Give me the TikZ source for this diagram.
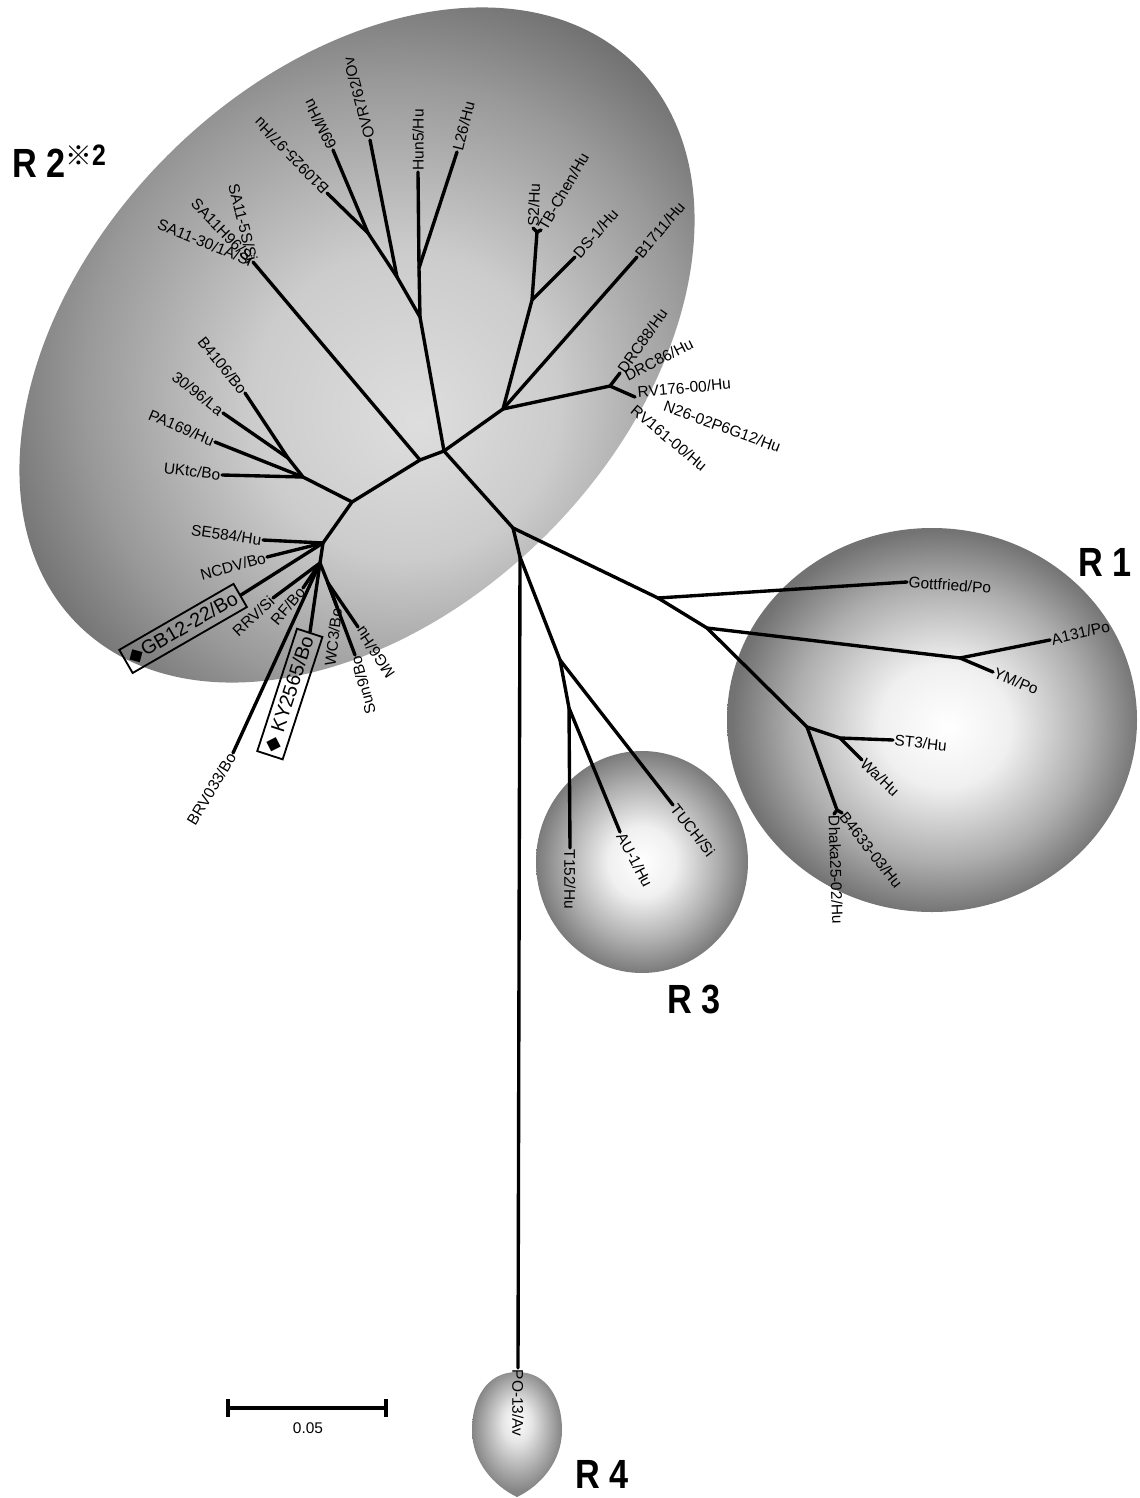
\documentclass[tikz,border=0pt]{standalone}
\usepackage{fontspec}
\setmainfont{Liberation Sans}
\newfontfamily\symfont{DejaVu Sans}
\newfontfamily\cjkfont{Noto Sans CJK JP}
\pgfdeclareradialshading{rtwo}{\pgfpoint{4bp}{-5bp}}{color(0bp)=(black!13); color(10bp)=(black!20); color(20bp)=(black!40); color(28bp)=(black!60); color(45bp)=(black!65)}
\pgfdeclareradialshading{rone}{\pgfpoint{2bp}{-1bp}}{color(0bp)=(white); color(8bp)=(black!6); color(18bp)=(black!32); color(25bp)=(black!55); color(35bp)=(black!58)}
\pgfdeclareradialshading{rthree}{\pgfpoint{0bp}{0bp}}{color(0bp)=(white); color(8bp)=(black!6); color(18bp)=(black!32); color(25bp)=(black!52); color(35bp)=(black!55)}
\pgfdeclareradialshading{rfour}{\pgfpoint{0bp}{6bp}}{color(0bp)=(white); color(8bp)=(black!10); color(25bp)=(black!48); color(40bp)=(black!60)}
\begin{document}
\begin{tikzpicture}[x=0.025cm,y=-0.025cm,
  br/.style={line width=2.4pt, line cap=round, line join=round},
  lab/.style={font=\fontsize{11}{13}\selectfont, inner sep=1pt},
  boxlab/.style={draw, line width=1.3pt, font=\fontsize{14}{16}\selectfont, inner sep=3pt, minimum height=19pt},
  big/.style={font=\fontsize{29}{29}\selectfont\bfseries, inner sep=0pt, anchor=base west}]
\useasboundingbox (0,0) rectangle (1139,1498);
\fill[white] (0,0) rectangle (1139,1498);
% groups
\shade[shading=rtwo, rotate around={45:(357,345)}] (357,345) ellipse [x radius=395, y radius=268];
\shade[shading=rone] (932,720) ellipse [x radius=205, y radius=192];
\shade[shading=rthree] (642,862) ellipse [x radius=106, y radius=111];
\shade[shading=rfour] (517,1372) .. controls (548,1372) and (562,1400) .. (562,1430) .. controls (562,1462) and (540,1486) .. (517,1497) .. controls (494,1486) and (472,1462) .. (472,1430) .. controls (472,1400) and (486,1372) .. (517,1372) -- cycle;
% internal nodes
\coordinate (E) at (444,451);
\coordinate (D) at (420,460);
\coordinate (B) at (352,502);
\coordinate (A) at (323,543);
\coordinate (A2) at (320,563);
\coordinate (A3) at (328,583);
\coordinate (C) at (303,477);
\coordinate (C1) at (288,458);
\coordinate (U) at (420,317);
\coordinate (U1) at (397,277);
\coordinate (U2) at (368,233);
\coordinate (U3) at (419,268);
\coordinate (P) at (503,409);
\coordinate (Q) at (532,300);
\coordinate (Q1) at (537,232);
\coordinate (R) at (610,386);
\coordinate (Rd) at (620,373);
\coordinate (Rv) at (635,397);
\coordinate (F) at (513,528);
\coordinate (H) at (520,557);
\coordinate (I) at (560,660);
\coordinate (J3) at (569,708);
\coordinate (G) at (658,598);
\coordinate (J) at (707,628);
\coordinate (Y) at (960,658);
\coordinate (K) at (807,727);
\coordinate (S) at (840,738);
\coordinate (BD) at (837,810);
% leaves
\coordinate (lB10925) at (327,193);
\coordinate (l69M) at (333,150);
\coordinate (lOVR) at (370,140);
\coordinate (lHun5) at (418,172);
\coordinate (lL26) at (457,152);
\coordinate (lSA11) at (253,262);
\coordinate (lB4106) at (245,393);
\coordinate (l3096) at (223,413);
\coordinate (lPA169) at (215,442);
\coordinate (lUKtc) at (222,475);
\coordinate (lSE584) at (263,540);
\coordinate (lNCDV) at (267,557);
\coordinate (lGB12) at (241,595);
\coordinate (lRRV) at (273,598);
\coordinate (lRF) at (303,588);
\coordinate (lBRV) at (233,753);
\coordinate (lKY) at (310,632);
\coordinate (lWC3) at (337,607);
\coordinate (lSun9) at (355,655);
\coordinate (lMG6) at (358,627);
\coordinate (lS2) at (533,228);
\coordinate (lTB) at (541,230);
\coordinate (lDS) at (575,257);
\coordinate (lB1711) at (637,257);
\coordinate (lGott) at (907,582);
\coordinate (lA131) at (1050,640);
\coordinate (lYM) at (993,672);
\coordinate (lST3) at (893,740);
\coordinate (lWa) at (862,760);
\coordinate (lB4633) at (842,813);
\coordinate (lDhaka) at (834,814);
\coordinate (lT152) at (570,848);
\coordinate (lAU1) at (620,832);
\coordinate (lTUCH) at (673,805);
\coordinate (lPO) at (518,1368);
% branches
\draw[br] (E) -- (D) -- (B) -- (A) -- (A2) -- (A3);
\draw[br] (B) -- (C) -- (C1) -- (lB4106);
\draw[br] (C1) -- (l3096);
\draw[br] (C) -- (lPA169);
\draw[br] (C) -- (lUKtc);
\draw[br] (D) -- (lSA11);
\draw[br] (A) -- (lSE584);
\draw[br] (A) -- (lNCDV);
\draw[br] (A) -- (lGB12);
\draw[br] (A2) -- (lRRV);
\draw[br] (A2) -- (lRF);
\draw[br] (A2) -- (lBRV);
\draw[br] (A2) -- (lKY);
\draw[br] (A3) -- (lWC3);
\draw[br] (A3) -- (lSun9);
\draw[br] (A3) -- (lMG6);
\draw[br] (E) -- (U) -- (U1) -- (U2) -- (lB10925);
\draw[br] (U2) -- (l69M);
\draw[br] (U1) -- (lOVR);
\draw[br] (U) -- (U3) -- (lHun5);
\draw[br] (U3) -- (lL26);
\draw[br] (E) -- (P) -- (Q) -- (Q1) -- (lS2);
\draw[br] (Q1) -- (lTB);
\draw[br] (Q) -- (lDS);
\draw[br] (P) -- (lB1711);
\draw[br] (P) -- (R) -- (Rd);
\draw[br] (R) -- (Rv);
\draw[br] (E) -- (F) -- (G) -- (lGott);
\draw[br] (G) -- (J) -- (Y) -- (lA131);
\draw[br] (Y) -- (lYM);
\draw[br] (J) -- (K) -- (S) -- (lST3);
\draw[br] (S) -- (lWa);
\draw[br] (K) -- (BD) -- (lB4633);
\draw[br] (BD) -- (lDhaka);
\draw[br] (F) -- (H) -- (lPO);
\draw[br] (H) -- (I) -- (J3) -- (lT152);
\draw[br] (J3) -- (lAU1);
\draw[br] (I) -- (lTUCH);
% labels upper cluster
\node[lab, anchor=west, rotate=134] (tB10925) at (lB10925) {B10925-97/Hu};
\node[lab, anchor=west, rotate=117] (t69M) at (l69M) {69M/Hu};
\node[lab, anchor=west, rotate=105] (tOVR) at (lOVR) {OVR762/Ov};
\node[lab, anchor=west, rotate=90] (tHun5) at (lHun5) {Hun5/Hu};
\node[lab, anchor=west, rotate=76] (tL26) at (lL26) {L26/Hu};
\node[lab, anchor=east, rotate=-76] (tSA1) at (lSA11) {SA11-5S/Si};
\node[lab, anchor=east, rotate=-46] (tSA2) at (lSA11) {SA11H96/Si};
\node[lab, anchor=east, rotate=-22] (tSA3) at (lSA11) {SA11-30/1A/Si};
% left cluster
\node[lab, anchor=east, rotate=-51] (tB4106) at (lB4106) {B4106/Bo};
\node[lab, anchor=east, rotate=-38] (t3096) at (l3096) {30/96/La};
\node[lab, anchor=east, rotate=-23] (tPA169) at (lPA169) {PA169/Hu};
\node[lab, anchor=east, rotate=-7] (tUKtc) at (lUKtc) {UKtc/Bo};
\node[lab, anchor=east, rotate=-8] (tSE584) at (lSE584) {SE584/Hu};
\node[lab, anchor=east, rotate=15] (tNCDV) at (lNCDV) {NCDV/Bo};
\node[boxlab, anchor=east, rotate=30] (tGB12) at (lGB12) {{\symfont ◆}GB12-22/Bo};
\node[lab, anchor=east, rotate=43] (tRRV) at (lRRV) {RRV/Si};
\node[lab, anchor=east, rotate=50] (tRF) at (lRF) {RF/Bo};
\node[lab, anchor=east, rotate=59] (tBRV) at (lBRV) {BRV033/Bo};
\node[boxlab, anchor=east, rotate=72] (tKY) at (lKY) {{\symfont ◆} KY2565/Bo};
\node[lab, anchor=east, rotate=83] (tWC3) at (lWC3) {WC3/Bo};
\node[lab, anchor=east, rotate=105] (tSun9) at (lSun9) {Sun9/Bo};
\node[lab, anchor=east, rotate=124] (tMG6) at (lMG6) {MG6/Hu};
% upper right
\node[lab, anchor=west, rotate=88] (tS2) at (lS2) {S2/Hu};
\node[lab, anchor=west, rotate=60] (tTB) at (lTB) {TB-Chen/Hu};
\node[lab, anchor=west, rotate=49] (tDS) at (lDS) {DS-1/Hu};
\node[lab, anchor=west, rotate=50] (tB1711) at (lB1711) {B1711/Hu};
\node[lab, anchor=west, rotate=55] (tDRC88) at (Rd) {DRC88/Hu};
\node[lab, anchor=west, rotate=27] (tDRC86) at (624,377) {DRC86/Hu};
\node[lab, anchor=west, rotate=5] (tRV176) at (636,392) {RV176-00/Hu};
\node[lab, anchor=west, rotate=-20] (tN26) at (663,405) {N26-02P6G12/Hu};
\node[lab, anchor=west, rotate=-40] (tRV161) at (632,407) {RV161-00/Hu};
% R1
\node[lab, anchor=west, rotate=-4] (tGott) at (lGott) {Gottfried/Po};
\node[lab, anchor=west, rotate=13] (tA131) at (lA131) {A131/Po};
\node[lab, anchor=west, rotate=-22] (tYM) at (lYM) {YM/Po};
\node[lab, anchor=west, rotate=-6] (tST3) at (lST3) {ST3/Hu};
\node[lab, anchor=west, rotate=-44] (tWa) at (lWa) {Wa/Hu};
\node[lab, anchor=west, rotate=-52] (tB4633) at (lB4633) {B4633-03/Hu};
\node[lab, anchor=west, rotate=-88] (tDhaka) at (lDhaka) {Dhaka25-02/Hu};
% R3, R4
\node[lab, anchor=west, rotate=-90] (tT152) at (lT152) {T152/Hu};
\node[lab, anchor=west, rotate=-62] (tAU1) at (lAU1) {AU-1/Hu};
\node[lab, anchor=west, rotate=-52] (tTUCH) at (lTUCH) {TUCH/Si};
\node[lab, anchor=west, rotate=-90] (tPO) at (lPO) {PO-13/Av};
% group names
\node[big] (nR1) at (1078,576) {\scalebox{0.84}[1]{R 1}};
\node[big] (nR2) at (12,178) {\scalebox{0.84}[1]{R 2}};
\node[anchor=north west, inner sep=0pt] (nR2s) at (65,145) {{\cjkfont\fontsize{19}{19}\selectfont\bfseries ※}{\fontsize{21}{21}\selectfont\bfseries\scalebox{0.84}[1]{2}}};
\node[big] (nR3) at (667,1013) {\scalebox{0.84}[1]{R 3}};
\node[big] (nR4) at (575,1488) {\scalebox{0.84}[1]{R 4}};
% scale bar
\coordinate (sb1) at (228,1408);
\coordinate (sb2) at (386,1408);
\draw[line width=2.2pt] (sb1) -- (sb2);
\draw[line width=2.2pt] (228,1399) -- (228,1417);
\draw[line width=2.2pt] (386,1399) -- (386,1417);
\node[lab, anchor=north] (sbt) at (308,1421) {0.05};
\end{tikzpicture}
\end{document}
